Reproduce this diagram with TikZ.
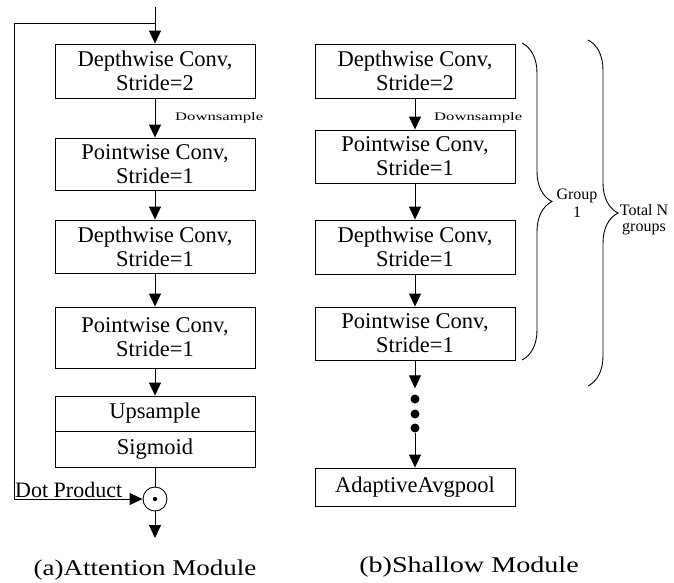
\documentclass[tikz,border=0pt]{standalone}
\usepackage{fontspec}
\setmainfont{Liberation Serif}
\usetikzlibrary{arrows.meta,decorations.pathreplacing}
\tikzstyle{arrow} = [line width=1pt,-{Triangle[width=12pt,length=13pt]}]
\tikzstyle{block} = [draw,line width=0.9pt,minimum width=200pt,inner sep=0pt,align=center,font=\fontsize{22.5}{24}\selectfont]
\tikzstyle{lbl} = [inner sep=0pt]
\tikzstyle{group} = [decorate,decoration={brace,amplitude=30pt},line width=0.9pt]

\begin{document}
\begin{tikzpicture}[x=1pt,y=1pt,yscale=-1,xscale=1]
\useasboundingbox (0,0) rectangle (674,582);

%Shape: Rectangle -- attention module
\node [block,minimum height=54pt] (a1) at (155,71) {Depthwise Conv,\\Stride=2};
\node [block,minimum height=52pt] (a2) at (155,164) {Pointwise Conv,\\Stride=1};
\node [block,minimum height=53pt] (a3) at (155,246.5) {Depthwise Conv,\\Stride=1};
\node [block,minimum height=61pt] (a4) at (155,337.5) {Pointwise Conv,\\Stride=1};
\node [block,minimum height=35pt] (up) at (155,413.5) {Upsample};
\node [block,minimum height=36pt] (sig) at (155,449) {Sigmoid};
%Shape: Circle
\node [draw,circle,line width=0.9pt,minimum size=24pt,inner sep=0pt] (dot) at (155,499) {};
\fill (dot) circle [radius=2.2];
\coordinate (in) at (155,7);
\coordinate (fb) at (14,23);
\coordinate (out) at (155,538);

%Straight Lines
\draw [arrow] (in) -- (a1);
\draw [arrow] (a1) -- (a2);
\draw [arrow] (a2) -- (a3);
\draw [arrow] (a3) -- (a4);
\draw [arrow] (a4) -- (up);
\draw [line width=1pt] (sig) -- (dot);
\draw [arrow] (in |- fb) -- (fb) |- (dot);
\draw [arrow] (dot) -- (out);

%Shape: Rectangle -- shallow module
\node [block,minimum height=54pt] (b1) at (415,71) {Depthwise Conv,\\Stride=2};
\node [block,minimum height=53pt] (b2) at (415,156.5) {Pointwise Conv,\\Stride=1};
\node [block,minimum height=54pt] (b3) at (415,247) {Depthwise Conv,\\Stride=1};
\node [block,minimum height=53pt] (b4) at (415,333.5) {Pointwise Conv,\\Stride=1};
\node [block,minimum height=38pt] (pool) at (415,487) {AdaptiveAvgpool};
%Shape: Dots
\node [circle,fill,inner sep=0pt,minimum size=9pt] (d1) at (415,399) {};
\node [circle,fill,inner sep=0pt,minimum size=9pt] (d2) at (415,414) {};
\node [circle,fill,inner sep=0pt,minimum size=9pt] (d3) at (415,428) {};

%Straight Lines
\draw [arrow] (b1) -- (b2);
\draw [arrow] (b2) -- (b3);
\draw [arrow] (b3) -- (b4);
\draw [arrow,shorten >=6pt] (b4) -- (d1);
\draw [arrow] (d3) -- (pool);

%Braces
\draw [group] (522,43) -- (522,360) node [midway] (g1) {};
\draw [group] (588,40) -- (588,386) node [midway] (g2) {};

% Text Node
\node [lbl,anchor=base west] (ds1) at (175,120) {\fontsize{11.5}{12}\selectfont\scalebox{1.45}[1]{Downsample}};
% Text Node
\node [lbl,anchor=base west] (ds2) at (434,120) {\fontsize{11.5}{12}\selectfont\scalebox{1.45}[1]{Downsample}};
% Text Node
\node [lbl,anchor=base west] (dp) at (15,497) {\fontsize{22}{24}\selectfont Dot Product};
% Text Node
\node [lbl,align=center,font=\fontsize{16}{18}\selectfont] (grp) at (577,203) {Group\\1};
% Text Node
\node [lbl,align=center,font=\fontsize{16}{16}\selectfont] (tot) at (644,220) {Total N\\groups};
% Text Node
\node [lbl] (capa) at (145,570) {\fontsize{22.5}{24}\selectfont\scalebox{1.2}[1]{(a)Attention Module}};
% Text Node
\node [lbl] (capb) at (469,567) {\fontsize{22.5}{24}\selectfont\scalebox{1.25}[1]{(b)Shallow Module}};

\end{tikzpicture}
\end{document}
